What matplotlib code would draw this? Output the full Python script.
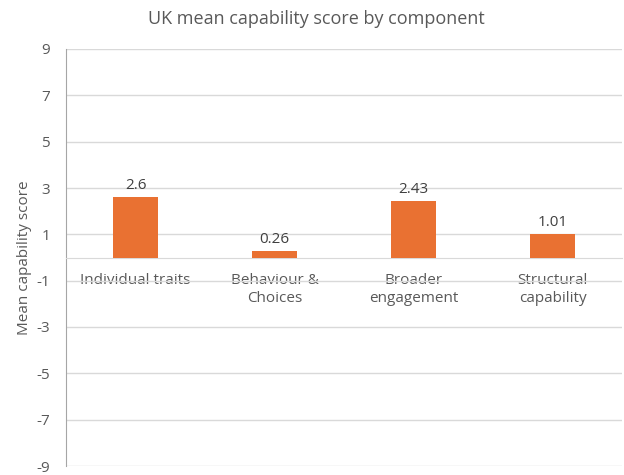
import matplotlib.pyplot as plt
import numpy as np

# Component scores
categories = ['Individual traits', 'Behaviour &\nChoices', 'Broader\nengagement', 'Structural\ncapability']
scores = [2.6, 0.26, 2.43, 1.01]
y_ticks = [-9, -7, -5, -3, -1, 1, 3, 5, 7, 9]

TEXT = '#595959'
BAR = '#E97132'
GRID = '#D9D9D9'

plt.rcParams['font.family'] = ['Open Sans', 'DejaVu Sans']
plt.rcParams['axes.unicode_minus'] = False

fig = plt.figure(figsize=(6.24, 4.75), dpi=100)
ax = fig.add_axes([66 / 624, 9 / 475, 556 / 624, 417 / 475])

x = np.arange(len(categories))
bars = ax.bar(x, scores, width=0.32, color=BAR, zorder=3)
for b, v in zip(bars, scores):
    ax.annotate(f'{v:g}', (b.get_x() + b.get_width() / 2, v), xytext=(0, 3),
                textcoords='offset points', ha='center', va='bottom',
                fontsize=11, color='#404040')

ax.set_xlim(-0.5, len(categories) - 0.5)
ax.set_ylim(-9, 9)
ax.set_yticks(y_ticks)
ax.yaxis.grid(True, color=GRID, linewidth=1, zorder=0)
ax.tick_params(axis='y', length=0, pad=11.5, labelsize=11, labelcolor=TEXT)

# category labels hang under the zero line
ax.spines['bottom'].set_position(('data', 0))
ax.spines['bottom'].set_color(GRID)
ax.set_xticks(x)
ax.set_xticklabels(categories, fontsize=11, color=TEXT, linespacing=1.25)
ax.tick_params(axis='x', length=0, pad=11)

ax.spines['left'].set_color('#A6A6A6')
ax.spines['top'].set_visible(False)
ax.spines['right'].set_visible(False)

ax.set_ylabel('Mean capability score', fontsize=11, color=TEXT, labelpad=3)
fig.text(316 / 624, 1 - 19 / 475, 'UK mean capability score by component',
         ha='center', va='center', fontsize=13, color=TEXT)

fig.savefig('out.png', dpi=100)
